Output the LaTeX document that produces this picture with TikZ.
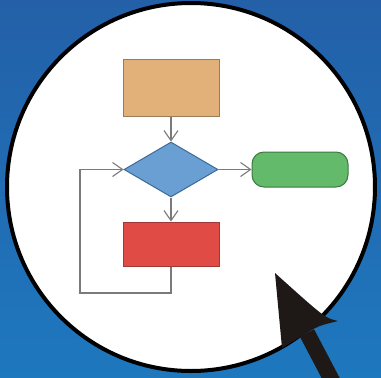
\documentclass[tikz,border=0pt]{standalone}
\usetikzlibrary{shapes.geometric,arrows.meta}
\definecolor{bgtop}{HTML}{2360A8}
\definecolor{bgbot}{HTML}{1E78BE}
\definecolor{linegray}{HTML}{7A7A7A}
\definecolor{orfill}{HTML}{E2B179}
\definecolor{ordraw}{HTML}{9A7B5A}
\definecolor{blfill}{HTML}{6A9FD4}
\definecolor{bldraw}{HTML}{3D6A96}
\definecolor{grfill}{HTML}{63BA6A}
\definecolor{grdraw}{HTML}{3C7A40}
\definecolor{rdfill}{HTML}{E04B45}
\definecolor{rddraw}{HTML}{A03838}
\definecolor{cursor}{HTML}{1E1816}
\tikzset{
  boxnode/.style={rectangle, minimum width=96pt, inner sep=0pt, line width=1pt},
  flowline/.style={draw=linegray, line width=1.1pt, -{Straight Barb[length=10pt,width=14pt,line width=1.1pt]}}
}
\begin{document}
\begin{tikzpicture}[x=1pt,y=-1pt]
\useasboundingbox (0,0) rectangle (381,378);
\shade[top color=bgtop,bottom color=bgbot] (0,0) rectangle (381,378);
\draw[fill=white, draw=black, line width=4pt] (191,187) circle (184);
\node[boxnode, fill=orfill, draw=ordraw, minimum height=57pt] (start) at (171,87.5) {};
\node[diamond, fill=blfill, draw=bldraw, line width=1pt, inner sep=0pt, minimum width=94pt, minimum height=55pt] (dec) at (171,169.5) {};
\node[boxnode, fill=grfill, draw=grdraw, rounded corners=12pt, minimum height=35pt] (endn) at (300,169.5) {};
\node[boxnode, fill=rdfill, draw=rddraw, minimum height=44pt] (proc) at (171,244) {};
\coordinate (lb) at (171,293);
\coordinate (ll) at (80,293);
\coordinate (lt) at (80,169.5);
\draw[flowline] (start.south) -- (dec.north);
\draw[flowline] (dec.east) -- (endn.west);
\draw[flowline] (dec.south) -- (proc.north);
\draw[flowline] (proc.south) -- (lb) -- (ll) -- (lt) -- (dec.west);
\coordinate (tip) at (275,273);
\coordinate (hl) at (282,348);
\coordinate (hin) at (307,333);
\coordinate (hr) at (338,321);
\coordinate (shaftend) at (338,392);
\draw[cursor, line width=16pt] (hin) -- (shaftend);
\fill[cursor] (tip) -- (hl) -- (hin) .. controls (318,326) .. (hr) .. controls (325,318) .. cycle;
\end{tikzpicture}
\end{document}
